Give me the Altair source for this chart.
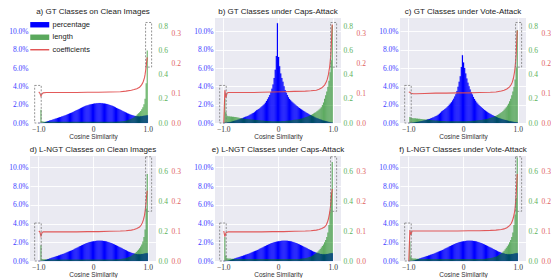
import altair as alt
import pandas as pd

# ---------------- data ----------------
BIN_LO = [round(-1.0 + 0.02 * i, 2) for i in range(100)]
BIN_HI = [round(v + 0.02, 2) for v in BIN_LO]

# percentage per bin (in %), bell-shaped panels a, d, e, f
PCT_BELL = [
    0, 0, 0, 0.01, 0.03, 0.06, 0.10, 0.14, 0.18, 0.22,
    0.26, 0.30, 0.34, 0.38, 0.42, 0.46, 0.50, 0.54, 0.58, 0.62,
    0.66, 0.70, 0.74, 0.78, 0.83, 0.88, 0.93, 0.98, 1.03, 1.08,
    1.13, 1.18, 1.24, 1.30, 1.36, 1.42, 1.48, 1.54, 1.60, 1.66,
    1.72, 1.77, 1.82, 1.87, 1.91, 1.95, 1.99, 2.02, 2.05, 2.08,
    2.10, 2.12, 2.14, 2.15, 2.16, 2.17, 2.17, 2.16, 2.15, 2.14,
    2.12, 2.10, 2.07, 2.04, 2.00, 1.96, 1.92, 1.87, 1.82, 1.77,
    1.71, 1.65, 1.59, 1.53, 1.47, 1.41, 1.35, 1.29, 1.23, 1.17,
    1.11, 1.05, 1.00, 0.95, 0.90, 0.86, 0.82, 0.79, 0.76, 0.74,
    0.73, 0.72, 0.72, 0.73, 0.74, 0.76, 0.78, 0.80, 0.82, 0.84,
]
PCT_B = [
    0, 0.02, 0.03, 0.05, 0.07, 0.09, 0.12, 0.15, 0.18, 0.22,
    0.25, 0.28, 0.31, 0.35, 0.39, 0.43, 0.48, 0.53, 0.58, 0.63,
    0.68, 0.72, 0.77, 0.83, 0.90, 0.96, 1.03, 1.10, 1.18, 1.28,
    1.38, 1.45, 1.53, 1.62, 1.72, 1.82, 1.93, 2.05, 2.20, 2.40,
    2.60, 2.80, 3.05, 3.35, 3.75, 4.20, 4.90, 5.80, 7.30, 10.90,
    7.20, 6.20, 5.40, 4.90, 4.50, 4.00, 3.60, 3.30, 3.05, 2.80,
    2.62, 2.48, 2.36, 2.25, 2.13, 2.02, 1.92, 1.82, 1.72, 1.63,
    1.55, 1.47, 1.39, 1.31, 1.23, 1.15, 1.08, 1.01, 0.94, 0.88,
    0.82, 0.76, 0.70, 0.64, 0.58, 0.53, 0.48, 0.43, 0.39, 0.35,
    0.30, 0.27, 0.24, 0.21, 0.18, 0.15, 0.12, 0.09, 0.06, 0.03,
]
PCT_C = [
    0, 0.01, 0.02, 0.03, 0.04, 0.06, 0.08, 0.10, 0.12, 0.15,
    0.17, 0.19, 0.21, 0.24, 0.27, 0.30, 0.33, 0.37, 0.41, 0.45,
    0.50, 0.54, 0.59, 0.64, 0.70, 0.76, 0.83, 0.91, 1.00, 1.12,
    1.25, 1.33, 1.42, 1.52, 1.62, 1.73, 1.85, 1.98, 2.12, 2.27,
    2.45, 2.65, 2.88, 3.15, 3.50, 3.95, 4.50, 5.10, 6.10, 7.40,
    6.60, 6.00, 5.40, 4.85, 4.40, 4.00, 3.65, 3.35, 3.10, 2.85,
    2.62, 2.42, 2.25, 2.10, 1.97, 1.85, 1.74, 1.63, 1.53, 1.43,
    1.34, 1.25, 1.17, 1.09, 1.02, 0.95, 0.88, 0.82, 0.76, 0.70,
    0.65, 0.60, 0.55, 0.51, 0.47, 0.43, 0.39, 0.35, 0.32, 0.29,
    0.26, 0.23, 0.20, 0.18, 0.16, 0.14, 0.12, 0.10, 0.08, 0.06,
]

# length per bin
LEN_A = [
    0, 0, 0.11, 0.014, 0.012, 0.011, 0.011, 0.010, 0.010, 0.010,
    0.010, 0.010, 0.010, 0.010, 0.010, 0.010, 0.010, 0.010, 0.010, 0.010,
    0.010, 0.010, 0.010, 0.010, 0.010, 0.010, 0.010, 0.010, 0.010, 0.010,
    0.010, 0.010, 0.010, 0.010, 0.010, 0.010, 0.010, 0.010, 0.010, 0.010,
    0.010, 0.010, 0.010, 0.010, 0.010, 0.010, 0.010, 0.010, 0.010, 0.010,
    0.010, 0.010, 0.010, 0.010, 0.010, 0.010, 0.010, 0.010, 0.010, 0.010,
    0.010, 0.010, 0.010, 0.010, 0.010, 0.010, 0.010, 0.010, 0.010, 0.010,
    0.011, 0.011, 0.012, 0.012, 0.013, 0.014, 0.015, 0.016, 0.017, 0.019,
    0.021, 0.023, 0.026, 0.029, 0.033, 0.037, 0.042, 0.048, 0.055, 0.063,
    0.072, 0.081, 0.090, 0.100, 0.113, 0.130, 0.155, 0.200, 0.330, 0.600,
]
LEN_B = [
    0, 0.20, 0.09, 0.060, 0.056, 0.055, 0.054, 0.053, 0.052, 0.051,
    0.050, 0.049, 0.047, 0.045, 0.043, 0.041, 0.040, 0.038, 0.037, 0.036,
    0.035, 0.034, 0.033, 0.032, 0.031, 0.030, 0.029, 0.028, 0.027, 0.026,
    0.025, 0.024, 0.023, 0.022, 0.021, 0.020, 0.020, 0.019, 0.018, 0.018,
    0.017, 0.017, 0.016, 0.016, 0.015, 0.015, 0.015, 0.015, 0.015, 0.015,
    0.015, 0.015, 0.015, 0.016, 0.016, 0.017, 0.017, 0.018, 0.019, 0.020,
    0.021, 0.022, 0.023, 0.024, 0.026, 0.027, 0.029, 0.030, 0.032, 0.034,
    0.036, 0.038, 0.040, 0.043, 0.046, 0.049, 0.052, 0.056, 0.060, 0.064,
    0.068, 0.073, 0.078, 0.084, 0.090, 0.097, 0.104, 0.112, 0.120, 0.130,
    0.150, 0.170, 0.200, 0.230, 0.260, 0.300, 0.350, 0.420, 0.520, 0.810,
]
LEN_C = [
    0, 0.050, 0.045, 0.042, 0.040, 0.040, 0.039, 0.038, 0.037, 0.036,
    0.035, 0.034, 0.033, 0.032, 0.031, 0.030, 0.029, 0.028, 0.027, 0.026,
    0.025, 0.024, 0.023, 0.022, 0.021, 0.020, 0.020, 0.019, 0.018, 0.018,
    0.017, 0.017, 0.016, 0.016, 0.015, 0.015, 0.015, 0.015, 0.015, 0.015,
    0.014, 0.014, 0.014, 0.014, 0.014, 0.014, 0.014, 0.014, 0.014, 0.014,
    0.015, 0.015, 0.015, 0.015, 0.016, 0.016, 0.017, 0.017, 0.018, 0.018,
    0.019, 0.020, 0.021, 0.022, 0.023, 0.024, 0.025, 0.027, 0.028, 0.030,
    0.032, 0.034, 0.036, 0.038, 0.041, 0.044, 0.047, 0.050, 0.054, 0.058,
    0.062, 0.067, 0.072, 0.078, 0.085, 0.092, 0.100, 0.110, 0.120, 0.130,
    0.145, 0.160, 0.180, 0.200, 0.230, 0.260, 0.300, 0.360, 0.460, 0.770,
]
LEN_D = [
    0, 0, 0.105, 0.014, 0.012, 0.011, 0.011, 0.010, 0.010, 0.010,
    0.010, 0.010, 0.010, 0.010, 0.010, 0.010, 0.010, 0.010, 0.010, 0.010,
    0.010, 0.010, 0.010, 0.010, 0.010, 0.010, 0.010, 0.010, 0.010, 0.010,
    0.010, 0.010, 0.010, 0.010, 0.010, 0.010, 0.010, 0.010, 0.010, 0.010,
    0.010, 0.010, 0.010, 0.010, 0.010, 0.010, 0.010, 0.010, 0.010, 0.010,
    0.010, 0.010, 0.010, 0.010, 0.010, 0.010, 0.010, 0.010, 0.010, 0.010,
    0.010, 0.010, 0.010, 0.010, 0.010, 0.010, 0.010, 0.010, 0.010, 0.010,
    0.011, 0.011, 0.012, 0.012, 0.013, 0.014, 0.015, 0.016, 0.017, 0.019,
    0.021, 0.023, 0.026, 0.029, 0.032, 0.036, 0.041, 0.046, 0.053, 0.060,
    0.068, 0.076, 0.085, 0.096, 0.110, 0.130, 0.160, 0.210, 0.350, 0.580,
]
LEN_E = [
    0, 0.16, 0.035, 0.018, 0.017, 0.016, 0.016, 0.015, 0.015, 0.015,
    0.014, 0.014, 0.014, 0.014, 0.014, 0.014, 0.014, 0.014, 0.014, 0.014,
    0.014, 0.014, 0.014, 0.014, 0.014, 0.014, 0.014, 0.014, 0.014, 0.014,
    0.014, 0.014, 0.014, 0.014, 0.014, 0.014, 0.014, 0.014, 0.014, 0.014,
    0.014, 0.014, 0.014, 0.014, 0.014, 0.014, 0.014, 0.014, 0.014, 0.014,
    0.014, 0.014, 0.014, 0.014, 0.014, 0.014, 0.014, 0.014, 0.014, 0.014,
    0.014, 0.014, 0.014, 0.014, 0.014, 0.014, 0.014, 0.014, 0.014, 0.014,
    0.015, 0.016, 0.017, 0.018, 0.019, 0.020, 0.022, 0.024, 0.026, 0.029,
    0.032, 0.036, 0.040, 0.045, 0.050, 0.056, 0.063, 0.071, 0.080, 0.090,
    0.100, 0.110, 0.125, 0.140, 0.160, 0.190, 0.240, 0.330, 0.450, 0.660,
]
LEN_F = [
    0, 0.13, 0.030, 0.018, 0.016, 0.016, 0.016, 0.015, 0.015, 0.015,
    0.014, 0.014, 0.014, 0.014, 0.014, 0.014, 0.014, 0.014, 0.014, 0.014,
    0.014, 0.014, 0.014, 0.014, 0.014, 0.014, 0.014, 0.014, 0.014, 0.014,
    0.014, 0.014, 0.014, 0.014, 0.014, 0.014, 0.014, 0.014, 0.014, 0.014,
    0.014, 0.014, 0.014, 0.014, 0.014, 0.014, 0.014, 0.014, 0.014, 0.014,
    0.014, 0.014, 0.014, 0.014, 0.014, 0.014, 0.014, 0.014, 0.014, 0.014,
    0.014, 0.014, 0.014, 0.014, 0.014, 0.014, 0.014, 0.014, 0.014, 0.014,
    0.015, 0.016, 0.017, 0.018, 0.019, 0.020, 0.022, 0.024, 0.026, 0.028,
    0.030, 0.034, 0.038, 0.043, 0.048, 0.054, 0.061, 0.069, 0.078, 0.088,
    0.098, 0.110, 0.125, 0.140, 0.160, 0.190, 0.240, 0.310, 0.420, 0.690,
]

# coefficients (red line)
RED_X = [-0.99, -0.97, -0.95, -0.93, -0.91, -0.85, -0.7, -0.5, -0.3, -0.1,
         0.1, 0.3, 0.5, 0.6, 0.7, 0.75, 0.8, 0.85, 0.88, 0.9,
         0.92, 0.94, 0.95, 0.96, 0.97, 0.98, 0.99]
COEF_A = [0.104, 0.100, 0.090, 0.098, 0.101, 0.102, 0.102, 0.102, 0.102, 0.103,
          0.103, 0.104, 0.105, 0.107, 0.110, 0.112, 0.115, 0.120, 0.126, 0.132,
          0.140, 0.152, 0.162, 0.175, 0.190, 0.205, 0.220]
COEF_B = [0.000, 0.110, 0.085, 0.100, 0.102, 0.102, 0.102, 0.102, 0.103, 0.104,
          0.105, 0.106, 0.107, 0.108, 0.110, 0.113, 0.118, 0.127, 0.137, 0.147,
          0.162, 0.185, 0.200, 0.220, 0.250, 0.290, 0.330]
COEF_C = [0.104, 0.103, 0.100, 0.099, 0.098, 0.098, 0.099, 0.100, 0.100, 0.101,
          0.101, 0.102, 0.103, 0.104, 0.107, 0.110, 0.114, 0.121, 0.129, 0.137,
          0.150, 0.170, 0.185, 0.205, 0.230, 0.270, 0.310]
COEF_D = [0.100, 0.097, 0.083, 0.095, 0.097, 0.097, 0.097, 0.097, 0.097, 0.098,
          0.098, 0.099, 0.100, 0.101, 0.103, 0.105, 0.108, 0.113, 0.120, 0.127,
          0.137, 0.152, 0.165, 0.180, 0.200, 0.220, 0.234]
COEF_E = [0.100, 0.081, 0.094, 0.096, 0.097, 0.097, 0.097, 0.097, 0.097, 0.098,
          0.098, 0.099, 0.100, 0.101, 0.103, 0.105, 0.108, 0.113, 0.120, 0.128,
          0.140, 0.158, 0.170, 0.185, 0.205, 0.225, 0.240]
COEF_F = [0.000, 0.103, 0.087, 0.100, 0.100, 0.100, 0.100, 0.100, 0.100, 0.100,
          0.101, 0.101, 0.102, 0.103, 0.105, 0.107, 0.111, 0.118, 0.125, 0.133,
          0.145, 0.162, 0.175, 0.195, 0.220, 0.255, 0.290]

TITLES = ["a) GT Classes on Clean Images", "b) GT Classes under Caps-Attack",
          "c) GT Classes under Vote-Attack", "d) L-NGT Classes on Clean Images",
          "e) L-NGT Classes under Caps-Attack", "f) L-NGT Classes under Vote-Attack"]
LEGEND_LABELS = ["percentage", "length", "coefficients"]

# dashed boxes (x range, y range on the percentage scale)
BOX_X0 = [-1.065, 0.96]
BOX_X1 = [-0.945, 1.07]
BOX_Y0_TOP = [0.0, 0.061]
BOX_Y1_TOP = [0.041, 0.1097]
BOX_Y0_BOT = [0.0, 0.053]
BOX_Y1_BOT = [0.0405, 0.1112]

X_TICKS = [-1.0, -0.5, 0.0, 0.5, 1.0]
PCT_TICKS = [0.0, 0.02, 0.04, 0.06, 0.08, 0.10]
RED_TICKS = [0.0, 0.1, 0.2, 0.3]

# ---------------- styling ----------------
BLUE = "#0000ff"
GREEN = "#008000"
RED = "#e04848"
BLUE_TXT = "#3c3cff"
GREEN_TXT = "#5cb25c"
RED_TXT = "#e06060"
W, H = 126, 105

PATCH = "M-2.8,-0.8H2.8V0.8H-2.8Z"
LINE = "M-2.8,-0.2H2.8V0.2H-2.8Z"


def panel(title, pct, length, coef, top_row, legend=False):
    pct_max = 0.1146 if top_row else 0.112
    g_max = 0.87 if top_row else 0.70
    g_ticks = [0.0, 0.2, 0.4, 0.6, 0.8] if top_row else [0.0, 0.2, 0.4, 0.6]
    r_max = 0.352 if top_row else 0.35

    bins = pd.DataFrame({"lo": BIN_LO, "hi": BIN_HI,
                         "pct": [p / 100 for p in pct], "length": length})
    red = pd.DataFrame({"x": RED_X, "coef": coef})
    boxes = pd.DataFrame({
        "x0": BOX_X0, "x1": BOX_X1,
        "y0": BOX_Y0_TOP if top_row else BOX_Y0_BOT,
        "y1": BOX_Y1_TOP if top_row else BOX_Y1_BOT,
    })

    xscale = alt.Scale(domain=[-1.15, 1.15], nice=False, zero=False)
    xaxis = alt.Axis(values=X_TICKS, grid=True, labelFlush=False,
                     labelExpr="datum.value == 0 ? '0' : format(datum.value, '.1f')")
    xt = "Cosine Similarity"

    blue = alt.Chart(bins).mark_rect(color=BLUE, stroke=BLUE, strokeWidth=0.15).encode(
        x=alt.X("lo:Q", scale=xscale, axis=xaxis, title=xt),
        x2="hi:Q",
        y=alt.Y("pct:Q", scale=alt.Scale(domain=[0, pct_max], nice=False),
                axis=alt.Axis(orient="left", values=PCT_TICKS, format=".1%",
                              grid=True, labelColor=BLUE_TXT, title=None)),
        y2=alt.datum(0),
    )
    green = alt.Chart(bins).mark_rect(color=GREEN, opacity=0.6).encode(
        x=alt.X("lo:Q", scale=xscale, title=xt),
        x2="hi:Q",
        y=alt.Y("length:Q", scale=alt.Scale(domain=[0, g_max], nice=False),
                axis=alt.Axis(orient="right", values=g_ticks, format=".1f",
                              grid=False, labelColor=GREEN_TXT, title=None)),
        y2=alt.datum(0),
    )
    line = alt.Chart(red).mark_line(color=RED, strokeWidth=1.1, opacity=0.9).encode(
        x=alt.X("x:Q", scale=xscale, title=xt),
        y=alt.Y("coef:Q", scale=alt.Scale(domain=[0, r_max], nice=False),
                axis=alt.Axis(orient="right", offset=13, values=RED_TICKS, format=".1f",
                              grid=False, labelColor=RED_TXT, title=None)),
    )
    rect = alt.Chart(boxes).mark_rect(
        fillOpacity=0, stroke="#7a7a7a", strokeWidth=0.8, strokeDash=[2, 1.5]
    ).encode(
        x=alt.X("x0:Q", scale=xscale, title=xt),
        x2="x1:Q",
        y=alt.Y("y0:Q", scale=alt.Scale(domain=[0, pct_max], nice=False), axis=None),
        y2="y1:Q",
    )
    layers = [blue, green, line, rect]
    if legend:
        leg_def = alt.Legend(orient="none", legendX=6, legendY=3, title=None,
                             symbolSize=46, labelOffset=9, rowPadding=3.5,
                             symbolStrokeWidth=0, symbolOpacity=1,
                             labelFont="Liberation Sans", labelFontSize=7.5,
                             labelColor="#222")
        leg = alt.Chart(pd.DataFrame({"series": LEGEND_LABELS})).mark_point(
            filled=True, opacity=0
        ).encode(
            color=alt.Color("series:N", scale=alt.Scale(domain=LEGEND_LABELS,
                            range=[BLUE, "#5aa85c", RED]), legend=leg_def),
            shape=alt.Shape("series:N", scale=alt.Scale(domain=LEGEND_LABELS,
                            range=[PATCH, PATCH, LINE]), legend=leg_def),
        )
        layers.append(leg)
    return alt.layer(*layers).resolve_scale(y="independent").properties(
        width=W, height=H,
        title=alt.TitleParams(title, fontSize=8, font="Liberation Sans",
                              fontWeight="normal", color="#222", offset=2),
    )


top = alt.hconcat(
    panel(TITLES[0], PCT_BELL, LEN_A, COEF_A, True, legend=True),
    panel(TITLES[1], PCT_B, LEN_B, COEF_B, True),
    panel(TITLES[2], PCT_C, LEN_C, COEF_C, True),
    spacing=12,
)
bottom = alt.hconcat(
    panel(TITLES[3], PCT_BELL, LEN_D, COEF_D, False),
    panel(TITLES[4], PCT_BELL, LEN_E, COEF_E, False),
    panel(TITLES[5], PCT_BELL, LEN_F, COEF_F, False),
    spacing=12,
)

chart = alt.vconcat(top, bottom, spacing=6).properties(padding=0).configure_view(
    fill="#EAEAF2", strokeWidth=0
).configure_axis(
    domain=False, ticks=False, labelFont="Liberation Serif", labelFontSize=7.5,
    labelPadding=2, titleFont="Liberation Sans", titleFontSize=6.5,
    titleFontWeight="normal", titleColor="#333", titlePadding=1,
    gridColor="white", gridWidth=0.9, labelColor="#333",
)

chart.save("out.html", embed_options={"renderer": "svg", "actions": False})
